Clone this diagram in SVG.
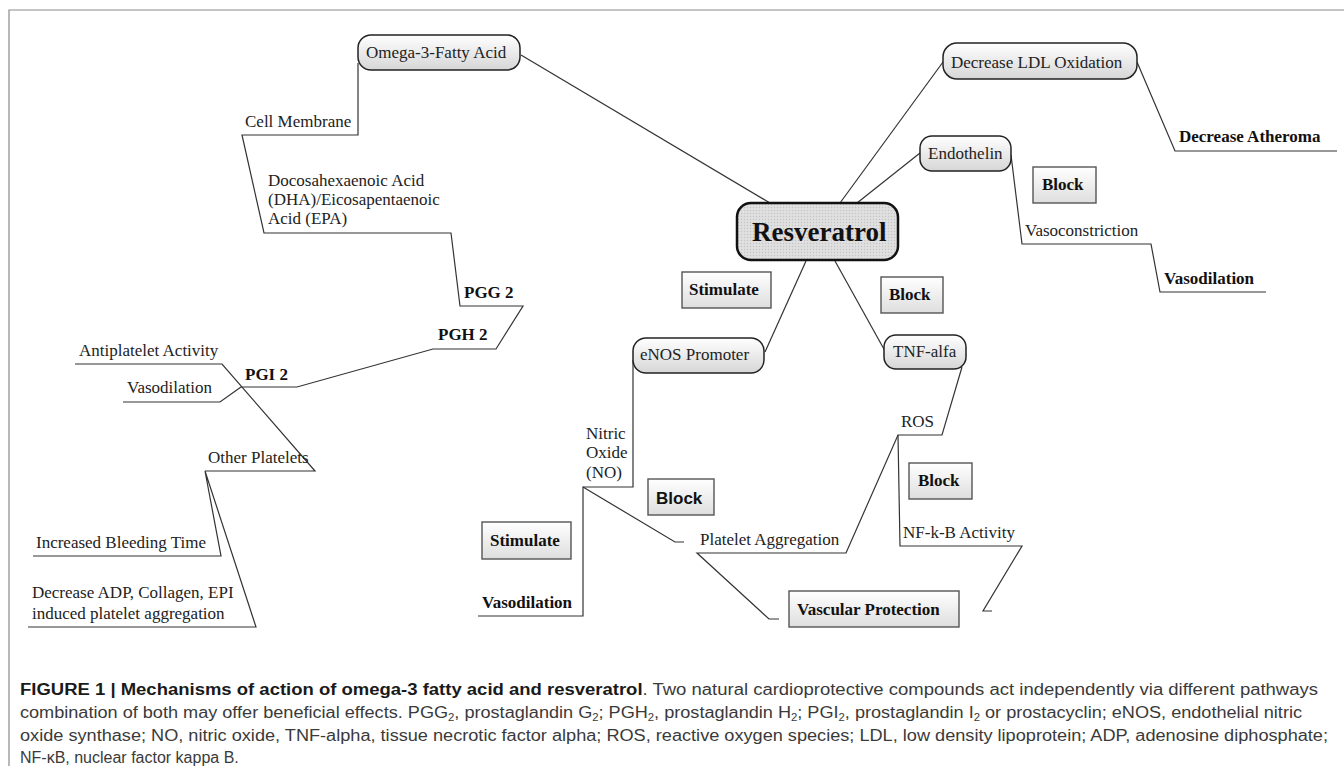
<svg xmlns="http://www.w3.org/2000/svg" width="1344" height="766" viewBox="0 0 1344 766">
<defs>
<linearGradient id="gRound" x1="0" y1="0" x2="0" y2="1">
<stop offset="0" stop-color="#ffffff"/>
<stop offset="1" stop-color="#d6d6d6"/>
</linearGradient>
<linearGradient id="gRect" x1="0" y1="0" x2="0" y2="1">
<stop offset="0" stop-color="#ffffff"/>
<stop offset="1" stop-color="#dedede"/>
</linearGradient>
<pattern id="hatch" width="3" height="3" patternUnits="userSpaceOnUse">
<rect width="3" height="3" fill="#dcdcdc"/>
<rect width="1" height="1" fill="#c4c4c4"/>
<rect x="1.5" y="1.5" width="1" height="1" fill="#ececec"/>
</pattern>
</defs>
<style>
.ln{fill:none;stroke:#333;stroke-width:1.2}
.frame{fill:none;stroke:#8a8a8a;stroke-width:1.2}
.rb{fill:url(#gRound);stroke:#222;stroke-width:1.5}
.rc{fill:url(#gRect);stroke:#555;stroke-width:1.4}
.t{font-family:"Liberation Serif","Times New Roman",serif;font-size:17px;fill:#222}
.b{font-family:"Liberation Serif","Times New Roman",serif;font-size:17px;font-weight:bold;fill:#111}
.bs{font-family:"Liberation Sans",Arial,sans-serif;font-size:17px;font-weight:bold;fill:#111}
.cap{font-family:"Liberation Sans",Arial,sans-serif;font-size:16px;fill:#3a3a3a}
.capb{font-weight:bold;fill:#1a1a1a}
</style>
<rect width="1344" height="766" fill="#ffffff"/>
<path class="frame" d="M9,766 V10 H1344"/>

<g id="connectors">
<line class="ln" x1="521" y1="55" x2="770" y2="203"/>
<line class="ln" x1="840" y1="203" x2="943" y2="62"/>
<line class="ln" x1="857" y1="203" x2="920" y2="153"/>
<line class="ln" x1="806" y1="261" x2="765" y2="352"/>
<line class="ln" x1="835" y1="261" x2="885" y2="351"/>
<polyline class="ln" points="358,63 358,135 242,135 264,233 451,233 460,306 523,306 496,349 433,349 297,387 241,387"/>
<polyline class="ln" points="75,364 222,364 315,471 205,471"/>
<polyline class="ln" points="123,402 220,402 241,387"/>
<polyline class="ln" points="33,556 221,556 205,471 256,627 28,627"/>
<polyline class="ln" points="1137,62 1175,151 1337,151"/>
<polyline class="ln" points="1011,155 1022,244 1151,244 1160,292 1266,292"/>
<polyline class="ln" points="633,360 633,487 583,487 583,616 478,616"/>
<polyline class="ln" points="583,487 675,542 684,542"/>
<polyline class="ln" points="779,619 769,619 697,553 846,553 898,435 942,435 962,367"/>
<polyline class="ln" points="898,435 900,546 1022,546 983,611 992,611"/>
</g>

<g id="resveratrol">
<rect x="737" y="203" width="161" height="57" rx="14" ry="14" fill="url(#hatch)" stroke="#111" stroke-width="2.5"/>
<text class="b" x="752" y="241" style="font-size:27px">Resveratrol</text>
</g>
<g id="omega3">
<rect class="rb" x="358" y="35" width="162" height="35" rx="13" ry="13"/>
<text class="t" x="366" y="58">Omega-3-Fatty Acid</text>
</g>
<g id="cell-membrane"><text class="t" x="245" y="127">Cell Membrane</text></g>
<g id="dha-epa">
<text class="t" x="268" y="186">Docosahexaenoic Acid</text>
<text class="t" x="268" y="205">(DHA)/Eicosapentaenoic</text>
<text class="t" x="268" y="224">Acid (EPA)</text>
</g>
<g id="pgg2"><text class="b" x="464" y="298">PGG 2</text></g>
<g id="pgh2"><text class="b" x="438" y="340">PGH 2</text></g>
<g id="pgi2"><text class="b" x="245" y="380">PGI 2</text></g>
<g id="antiplatelet"><text class="t" x="79" y="356">Antiplatelet Activity</text></g>
<g id="vasodilation-left"><text class="t" x="127" y="393">Vasodilation</text></g>
<g id="other-platelets"><text class="t" x="208" y="463">Other Platelets</text></g>
<g id="bleeding"><text class="t" x="36" y="548">Increased Bleeding Time</text></g>
<g id="decrease-adp">
<text class="t" x="32" y="598">Decrease ADP, Collagen, EPI</text>
<text class="t" x="32" y="619">induced platelet aggregation</text>
</g>

<g id="ldl">
<rect class="rb" x="943" y="43" width="194" height="36" rx="14" ry="14"/>
<text class="t" x="951" y="68">Decrease LDL Oxidation</text>
</g>
<g id="atheroma"><text class="b" x="1179" y="142">Decrease Atheroma</text></g>
<g id="endothelin">
<rect class="rb" x="920" y="136" width="91" height="35" rx="12" ry="12"/>
<text class="t" x="928" y="159">Endothelin</text>
</g>
<g id="block-1">
<rect class="rc" x="1033" y="167" width="63" height="36"/>
<text class="b" x="1042" y="190">Block</text>
</g>
<g id="vasoconstriction"><text class="t" x="1025" y="236">Vasoconstriction</text></g>
<g id="vasodilation-right"><text class="b" x="1164" y="284">Vasodilation</text></g>

<g id="stimulate-1">
<rect class="rc" x="682" y="272" width="89" height="36"/>
<text class="b" x="689" y="295">Stimulate</text>
</g>
<g id="block-2">
<rect class="rc" x="881" y="277" width="62" height="36"/>
<text class="b" x="889" y="300">Block</text>
</g>
<g id="enos">
<rect class="rb" x="633" y="338" width="131" height="35" rx="13" ry="13"/>
<text class="t" x="640" y="360">eNOS Promoter</text>
</g>
<g id="tnf">
<rect class="rb" x="884" y="335" width="82" height="34" rx="12" ry="12"/>
<text class="t" x="893" y="357">TNF-alfa</text>
</g>
<g id="nitric-oxide">
<text class="t" x="586" y="439">Nitric</text>
<text class="t" x="586" y="458">Oxide</text>
<text class="t" x="586" y="478">(NO)</text>
</g>
<g id="ros"><text class="t" x="901" y="427">ROS</text></g>
<g id="block-3">
<rect class="rc" x="648" y="479" width="66" height="36"/>
<text class="bs" x="656" y="504">Block</text>
</g>
<g id="block-4">
<rect class="rc" x="909" y="463" width="63" height="36"/>
<text class="b" x="918" y="486">Block</text>
</g>
<g id="nfkb"><text class="t" x="903" y="538">NF-k-B Activity</text></g>
<g id="stimulate-2">
<rect class="rc" x="482" y="522" width="89" height="37"/>
<text class="b" x="490" y="546">Stimulate</text>
</g>
<g id="platelet-aggregation"><text class="t" x="700" y="545">Platelet Aggregation</text></g>
<g id="vasodilation-bottom"><text class="b" x="482" y="608">Vasodilation</text></g>
<g id="vascular-protection">
<rect class="rc" x="789" y="591" width="170" height="36"/>
<text class="b" x="797" y="615">Vascular Protection</text>
</g>

<g id="caption">
<text class="cap" x="20" y="695" textLength="1298" lengthAdjust="spacingAndGlyphs"><tspan class="capb">FIGURE 1 | Mechanisms of action of omega-3 fatty acid and resveratrol</tspan>. Two natural cardioprotective compounds act independently via different pathways</text>
<text class="cap" x="20" y="718" textLength="1282" lengthAdjust="spacingAndGlyphs">combination of both may offer beneficial effects. PGG<tspan font-size="10" dy="3">2</tspan><tspan dy="-3">, prostaglandin G</tspan><tspan font-size="10" dy="3">2</tspan><tspan dy="-3">; PGH</tspan><tspan font-size="10" dy="3">2</tspan><tspan dy="-3">, prostaglandin H</tspan><tspan font-size="10" dy="3">2</tspan><tspan dy="-3">; PGI</tspan><tspan font-size="10" dy="3">2</tspan><tspan dy="-3">, prostaglandin I</tspan><tspan font-size="10" dy="3">2</tspan><tspan dy="-3"> or prostacyclin; eNOS, endothelial nitric</tspan></text>
<text class="cap" x="20" y="741" textLength="1308" lengthAdjust="spacingAndGlyphs">oxide synthase; NO, nitric oxide, TNF-alpha, tissue necrotic factor alpha; ROS, reactive oxygen species; LDL, low density lipoprotein; ADP, adenosine diphosphate;</text>
<text class="cap" x="20" y="763">NF-κB, nuclear factor kappa B.</text>
</g>
</svg>
